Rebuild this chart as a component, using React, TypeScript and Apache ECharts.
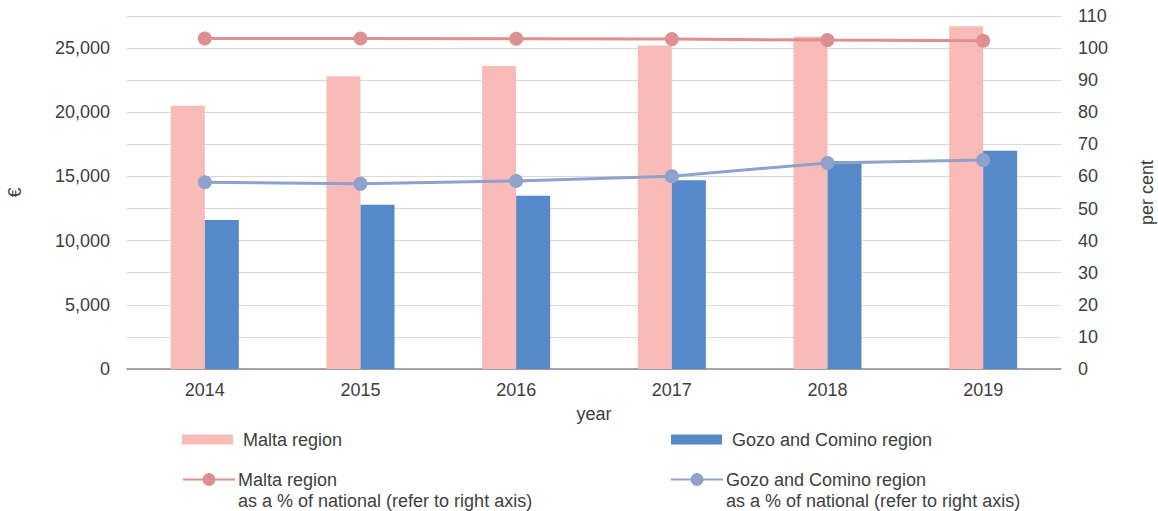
import React, { useEffect, useRef } from "react";
import * as echarts from "echarts";

const years = ["2014", "2015", "2016", "2017", "2018", "2019"];
const maltaValues = [20500, 22800, 23600, 25200, 25900, 26700];
const gozoValues = [11600, 12800, 13500, 14700, 16200, 17000];
const maltaPct = [103.0, 103.0, 102.9, 102.8, 102.5, 102.3];
const gozoPct = [58.2, 57.7, 58.6, 60.1, 64.2, 65.1];

const NAME_MALTA = "Malta region";
const NAME_GOZO = "Gozo and Comino region";
const NAME_MALTA_PCT = "Malta region\nas a % of national (refer to right axis)";
const NAME_GOZO_PCT = "Gozo and Comino region\nas a % of national (refer to right axis)";

const FONT = "'Liberation Sans', Arial, sans-serif";
const TXT = "#404040";
const C_MALTA_BAR = "#F9BBB8";
const C_GOZO_BAR = "#5589C8";
const C_MALTA_LINE = "#DE8F91";
const C_GOZO_LINE = "#8FA2CC";

export default function App() {
  const ref = useRef<HTMLDivElement>(null);
  useEffect(() => {
    if (!ref.current) return;
    const chart = echarts.init(ref.current, null, { renderer: "svg" });
    const textStyle = { color: TXT, fontSize: 18, fontFamily: FONT };
    const barLegend = (name: string, left: number) => ({
      data: [{ name, icon: "rect" }],
      left,
      top: 429,
      padding: 0,
      itemWidth: 51,
      itemHeight: 10,
      textStyle: { ...textStyle, lineHeight: 21, padding: [0, 0, 0, 5] },
      selectedMode: false,
    });
    const lineLegend = (name: string, left: number) => ({
      data: [{ name }],
      left,
      top: 448,
      padding: 0,
      itemWidth: 52,
      itemHeight: 16,
      formatter: (n: string) => "\n" + n,
      textStyle: { ...textStyle, lineHeight: 21, padding: [0, 0, 0, -2] },
      selectedMode: false,
    });
    chart.setOption({
      animation: false,
      textStyle: { fontFamily: FONT },
      grid: { left: 127, right: 97, top: 16, bottom: 142, outerBoundsMode: "none", containLabel: false },
      legend: [
        barLegend(NAME_MALTA, 182),
        barLegend(NAME_GOZO, 671),
        lineLegend(NAME_MALTA_PCT, 182),
        lineLegend(NAME_GOZO_PCT, 670),
      ],
      xAxis: {
        type: "category",
        data: years,
        name: "year",
        nameLocation: "middle",
        nameGap: 36,
        nameTextStyle: textStyle,
        axisLine: { lineStyle: { color: "#8C8C8C", width: 1.5 } },
        axisTick: { show: false },
        axisLabel: { ...textStyle, margin: 12 },
      },
      yAxis: [
        {
          type: "value",
          min: 0,
          max: 27500,
          interval: 2500,
          name: "€",
          nameLocation: "middle",
          nameGap: 103,
          nameRotate: 90,
          nameTextStyle: textStyle,
          axisLine: { show: false },
          axisTick: { show: false },
          axisLabel: {
            ...textStyle,
            margin: 17,
            formatter: (v: number) => (v % 5000 === 0 ? v.toLocaleString("en-US") : ""),
          },
          splitLine: { lineStyle: { color: "#D9D9D9", width: 1 } },
        },
        {
          type: "value",
          min: 0,
          max: 110,
          interval: 10,
          name: "per cent",
          nameLocation: "middle",
          nameGap: 77,
          nameRotate: 90,
          nameTextStyle: textStyle,
          axisLine: { show: false },
          axisTick: { show: false },
          axisLabel: { ...textStyle, margin: 17 },
          splitLine: { show: false },
        },
      ],
      series: [
        {
          name: NAME_MALTA,
          type: "bar",
          data: maltaValues,
          barWidth: 34,
          barGap: "0%",
          itemStyle: { color: C_MALTA_BAR },
        },
        {
          name: NAME_GOZO,
          type: "bar",
          data: gozoValues,
          barWidth: 34,
          barGap: "0%",
          itemStyle: { color: C_GOZO_BAR },
        },
        {
          name: NAME_MALTA_PCT,
          type: "line",
          yAxisIndex: 1,
          data: maltaPct,
          symbol: "circle",
          symbolSize: 14,
          lineStyle: { color: C_MALTA_LINE, width: 3 },
          itemStyle: { color: C_MALTA_LINE },
        },
        {
          name: NAME_GOZO_PCT,
          type: "line",
          yAxisIndex: 1,
          data: gozoPct,
          symbol: "circle",
          symbolSize: 14,
          lineStyle: { color: C_GOZO_LINE, width: 3 },
          itemStyle: { color: C_GOZO_LINE },
        },
      ],
    });
    return () => chart.dispose();
  }, []);
  return <div ref={ref} style={{ width: 1158, height: 511, position: "absolute", left: 0, top: 0 }} />;
}
